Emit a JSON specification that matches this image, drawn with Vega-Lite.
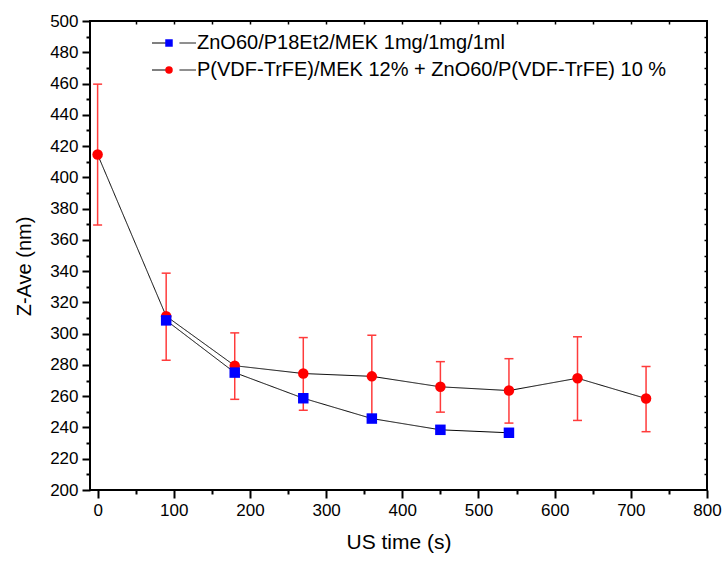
{
  "$schema": "https://vega.github.io/schema/vega-lite/v6.json",
  "width": 617,
  "height": 469,
  "autosize": {"type": "none"},
  "padding": {"left": 90, "top": 21, "right": 17, "bottom": 71},
  "background": "white",
  "config": {
    "font": "Liberation Sans",
    "view": {"stroke": "black", "strokeWidth": 2},
    "axis": {"grid": false, "domain": false, "tickColor": "black", "tickWidth": 2, "labelColor": "black", "titleColor": "black", "titleFontWeight": "normal", "labelFontSize": 17, "labelOverlap": false, "labelFlush": false}
  },
  "data": {
    "values": [
      {"series": "P(VDF-TrFE)/MEK 12% + ZnO60/P(VDF-TrFE) 10 %", "t": 0, "z": 414.6, "lo": 369.5, "hi": 459.6},
      {"series": "P(VDF-TrFE)/MEK 12% + ZnO60/P(VDF-TrFE) 10 %", "t": 90, "z": 311.2, "lo": 283, "hi": 338.7},
      {"series": "P(VDF-TrFE)/MEK 12% + ZnO60/P(VDF-TrFE) 10 %", "t": 180, "z": 279.5, "lo": 258, "hi": 300.5},
      {"series": "P(VDF-TrFE)/MEK 12% + ZnO60/P(VDF-TrFE) 10 %", "t": 270, "z": 274.5, "lo": 251, "hi": 297.5},
      {"series": "P(VDF-TrFE)/MEK 12% + ZnO60/P(VDF-TrFE) 10 %", "t": 360, "z": 272.7, "lo": 247, "hi": 299},
      {"series": "P(VDF-TrFE)/MEK 12% + ZnO60/P(VDF-TrFE) 10 %", "t": 450, "z": 266, "lo": 249.8, "hi": 282.1},
      {"series": "P(VDF-TrFE)/MEK 12% + ZnO60/P(VDF-TrFE) 10 %", "t": 540, "z": 263.6, "lo": 242.8, "hi": 284},
      {"series": "P(VDF-TrFE)/MEK 12% + ZnO60/P(VDF-TrFE) 10 %", "t": 630, "z": 271.5, "lo": 244.5, "hi": 298},
      {"series": "P(VDF-TrFE)/MEK 12% + ZnO60/P(VDF-TrFE) 10 %", "t": 720, "z": 258.5, "lo": 237.3, "hi": 279},
      {"series": "ZnO60/P18Et2/MEK 1mg/1mg/1ml", "t": 90, "z": 308.5},
      {"series": "ZnO60/P18Et2/MEK 1mg/1mg/1ml", "t": 180, "z": 275.1},
      {"series": "ZnO60/P18Et2/MEK 1mg/1mg/1ml", "t": 270, "z": 258.7},
      {"series": "ZnO60/P18Et2/MEK 1mg/1mg/1ml", "t": 360, "z": 245.7},
      {"series": "ZnO60/P18Et2/MEK 1mg/1mg/1ml", "t": 450, "z": 238.5},
      {"series": "ZnO60/P18Et2/MEK 1mg/1mg/1ml", "t": 540, "z": 236.6}
    ]
  },
  "resolve": {"axis": {"x": "independent", "y": "independent"}, "scale": {"shape": "independent"}},
  "layer": [
    {
      "transform": [{"filter": "isValid(datum.z)"}],
      "mark": {"type": "line", "color": "black", "strokeWidth": 1},
      "encoding": {
        "x": {"field": "t", "type": "quantitative", "scale": {"domain": [-10, 800], "nice": false, "zero": false},
          "axis": {"orient": "bottom", "values": [0, 100, 200, 300, 400, 500, 600, 700, 800], "tickSize": 8, "labelPadding": 4, "title": "US time (s)", "titleFontSize": 21, "titlePadding": 13}},
        "y": {"field": "z", "type": "quantitative", "scale": {"domain": [200, 500], "nice": false, "zero": false},
          "axis": {"orient": "left", "values": [200, 220, 240, 260, 280, 300, 320, 340, 360, 380, 400, 420, 440, 460, 480, 500], "tickSize": 8, "labelPadding": 4, "title": "Z-Ave (nm)", "titleFontSize": 20, "titlePadding": 15, "titleY": 245}},
        "strokeDash": {"field": "series", "type": "nominal", "sort": ["ZnO60/P18Et2/MEK 1mg/1mg/1ml", "P(VDF-TrFE)/MEK 12% + ZnO60/P(VDF-TrFE) 10 %"],
          "scale": {"range": [[1, 0], [1, 0]]},
          "legend": {"title": null, "orient": "none", "legendX": 58, "legendY": 12, "padding": 0, "symbolType": "M-4.4,0H-1.1M1.1,0H4.4", "symbolSize": 100, "symbolStrokeWidth": 1, "symbolOffset": 16, "labelFontSize": 20, "labelExpr": "''", "rowPadding": 7, "labelLimit": 700}}
      }
    },
    {
      "transform": [{"filter": "isValid(datum.lo)"}],
      "mark": {"type": "rule", "color": "#ff3b3b", "strokeWidth": 1.5},
      "encoding": {
        "x": {"field": "t", "type": "quantitative", "scale": {"domain": [-10, 800], "nice": false, "zero": false},
          "axis": {"orient": "bottom", "values": [50, 150, 250, 350, 450, 550, 650, 750], "tickSize": 4, "labels": false, "title": null}},
        "y": {"field": "lo", "type": "quantitative", "scale": {"domain": [200, 500], "nice": false, "zero": false},
          "axis": {"orient": "left", "values": [210, 230, 250, 270, 290, 310, 330, 350, 370, 390, 410, 430, 450, 470, 490], "tickSize": 4, "labels": false, "title": null}},
        "y2": {"field": "hi"}
      }
    },
    {
      "transform": [{"filter": "isValid(datum.lo)"}],
      "mark": {"type": "tick", "orient": "horizontal", "size": 9, "thickness": 1.5, "color": "#ff3b3b", "opacity": 1},
      "encoding": {
        "x": {"field": "t", "type": "quantitative",
          "axis": {"orient": "top", "values": [50, 100, 150, 200, 250, 300, 350, 400, 450, 500, 550, 600, 650, 700, 750], "tickSize": 3, "offset": -3, "tickWidth": 1.5, "labels": false, "title": null}},
        "y": {"field": "lo", "type": "quantitative",
          "axis": {"orient": "right", "values": [210, 220, 230, 240, 250, 260, 270, 280, 290, 300, 310, 320, 330, 340, 350, 360, 370, 380, 390, 400, 410, 420, 430, 440, 450, 460, 470, 480, 490], "tickSize": 3, "offset": -3, "tickWidth": 1.5, "labels": false, "title": null}}
      }
    },
    {
      "transform": [{"filter": "isValid(datum.hi)"}],
      "mark": {"type": "tick", "orient": "horizontal", "size": 9, "thickness": 1.5, "color": "#ff3b3b", "opacity": 1},
      "encoding": {
        "x": {"field": "t", "type": "quantitative", "axis": null},
        "y": {"field": "hi", "type": "quantitative", "axis": null}
      }
    },
    {
      "transform": [{"filter": "datum.series === 'P(VDF-TrFE)/MEK 12% + ZnO60/P(VDF-TrFE) 10 %'"}],
      "mark": {"type": "point", "filled": true, "size": 110, "opacity": 1, "color": "#ff0000"},
      "encoding": {
        "x": {"field": "t", "type": "quantitative", "axis": null},
        "y": {"field": "z", "type": "quantitative", "axis": null},
        "shape": {"field": "series", "type": "nominal", "scale": {"range": ["circle"]},
          "legend": {"title": null, "orient": "none", "legendX": 58, "legendY": 39, "padding": 0, "symbolSize": 56, "symbolStrokeWidth": 0, "symbolFillColor": "#ff0000", "symbolOffset": 11, "labelOffset": 18, "labelFontSize": 20, "labelColor": "black", "labelLimit": 700}}
      }
    },
    {
      "transform": [{"filter": "datum.series === 'ZnO60/P18Et2/MEK 1mg/1mg/1ml'"}],
      "mark": {"type": "point", "filled": true, "size": 110, "opacity": 1, "color": "#0000ff"},
      "encoding": {
        "x": {"field": "t", "type": "quantitative", "axis": null},
        "y": {"field": "z", "type": "quantitative", "axis": null},
        "shape": {"field": "series", "type": "nominal", "scale": {"range": ["square"]},
          "legend": {"title": null, "orient": "none", "legendX": 58, "legendY": 12, "padding": 0, "symbolSize": 56, "symbolStrokeWidth": 0, "symbolFillColor": "#0000ff", "symbolOffset": 11, "labelOffset": 18, "labelFontSize": 20, "labelColor": "black", "labelLimit": 700}}
      }
    }
  ]
}
